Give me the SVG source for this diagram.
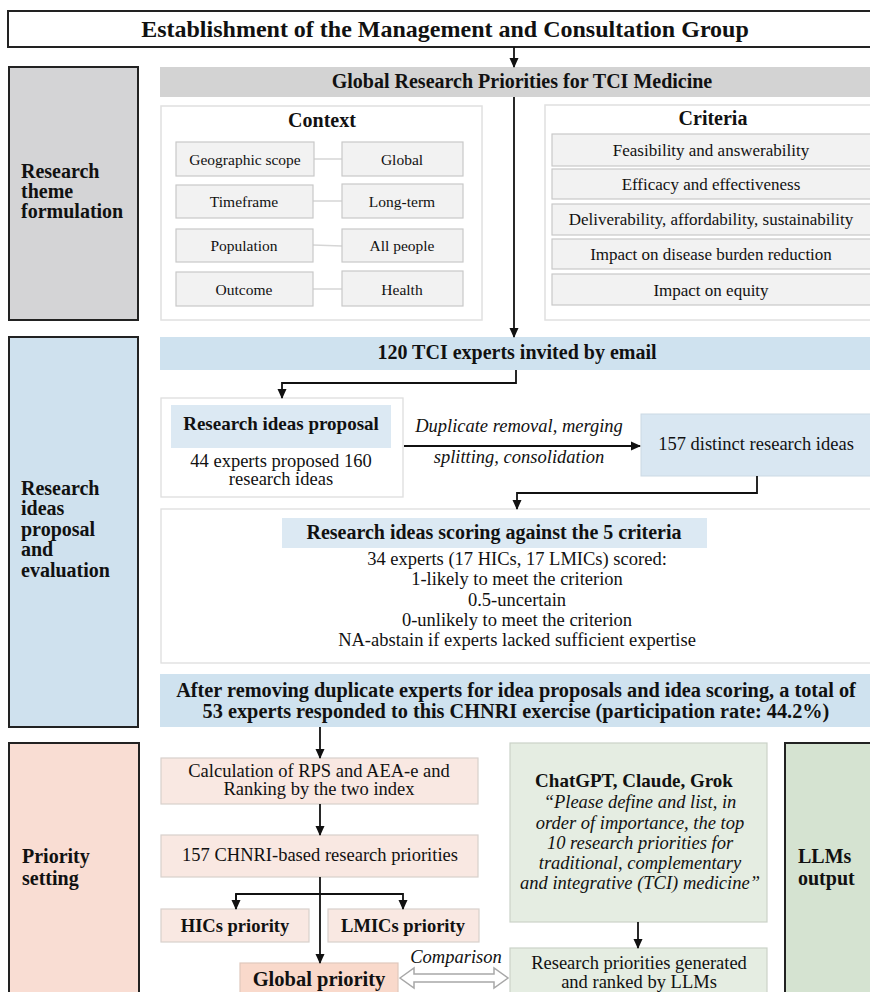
<svg xmlns="http://www.w3.org/2000/svg" width="870" height="992" viewBox="0 0 870 992">
<defs>
<marker id="ah" markerWidth="10" markerHeight="10" refX="9" refY="5" orient="auto" markerUnits="userSpaceOnUse">
<path d="M0,0.5 L10,5 L0,9.5 Z" fill="#111"/>
</marker>
<style>
text{font-family:"Liberation Serif","Times New Roman",serif;fill:#111}
.b{font-weight:bold}
.i{font-style:italic}
.c{text-anchor:middle}
.lab{stroke:#222;stroke-width:2}
.item{fill:#f2f2f2;stroke:#c9c9c9;stroke-width:1.2}
.panel{fill:#fff;stroke:#e0e0e0;stroke-width:1.5}
.blue{fill:#cfe2ef}
.peach{fill:#f9e8e2;stroke:#d8d0cc;stroke-width:1.2}
.green{fill:#e5ede2;stroke:#cbd2c8;stroke-width:1.2}
.conn{fill:none;stroke:#111;stroke-width:1.8}
.thin{stroke:#d6d6d6;stroke-width:1.5}
</style>
</defs>
<rect width="870" height="992" fill="#fff"/>

<g id="top">
<rect x="8" y="11" width="870" height="36" fill="#fff" stroke="#222" stroke-width="2"/>
<text class="b c" x="445" y="37" font-size="24">Establishment of the Management and Consultation Group</text>
</g>

<g id="label-theme">
<rect class="lab" x="9" y="67" width="129" height="253" fill="#d4d4d6"/>
<text class="b" x="21" y="178" font-size="20">Research</text>
<text class="b" x="21" y="198" font-size="20">theme</text>
<text class="b" x="21" y="218" font-size="20">formulation</text>
</g>

<g id="global-bar">
<rect x="160" y="67" width="715" height="30" fill="#d3d3d3"/>
<text class="b c" x="522" y="88" font-size="20">Global Research Priorities for TCI Medicine</text>
</g>

<g id="context">
<rect class="panel" x="161" y="106" width="321" height="214"/>
<text class="b c" x="322" y="127" font-size="20">Context</text>
<line class="thin" x1="314" y1="159" x2="342" y2="159"/>
<line class="thin" x1="313" y1="201" x2="342" y2="201"/>
<line class="thin" x1="313" y1="245" x2="342" y2="246"/>
<line class="thin" x1="313" y1="289" x2="342" y2="289"/>
<rect class="item" x="176" y="142" width="138" height="34"/>
<text class="c" x="245" y="165" font-size="15.5">Geographic scope</text>
<rect class="item" x="342" y="142" width="121" height="34"/>
<text class="c" x="402" y="165" font-size="15.5">Global</text>
<rect class="item" x="176" y="185" width="137" height="33"/>
<text class="c" x="244" y="207" font-size="15.5">Timeframe</text>
<rect class="item" x="342" y="184" width="121" height="34"/>
<text class="c" x="402" y="207" font-size="15.5">Long-term</text>
<rect class="item" x="176" y="229" width="137" height="33"/>
<text class="c" x="244" y="251" font-size="15.5">Population</text>
<rect class="item" x="342" y="229" width="121" height="33"/>
<text class="c" x="402" y="251" font-size="15.5">All people</text>
<rect class="item" x="176" y="272" width="137" height="34"/>
<text class="c" x="244" y="295" font-size="15.5">Outcome</text>
<rect class="item" x="342" y="271" width="121" height="35"/>
<text class="c" x="402" y="295" font-size="15.5">Health</text>
</g>

<g id="criteria">
<rect class="panel" x="545" y="105" width="330" height="215"/>
<text class="b c" x="713" y="125" font-size="20">Criteria</text>
<rect class="item" x="552" y="134" width="323" height="32"/>
<text class="c" x="711" y="156" font-size="17">Feasibility and answerability</text>
<rect class="item" x="552" y="169" width="323" height="30"/>
<text class="c" x="711" y="190" font-size="17">Efficacy and effectiveness</text>
<rect class="item" x="552" y="204" width="323" height="31"/>
<text class="c" x="711" y="225" font-size="17">Deliverability, affordability, sustainability</text>
<rect class="item" x="552" y="239" width="323" height="30"/>
<text class="c" x="711" y="260" font-size="17">Impact on disease burden reduction</text>
<rect class="item" x="552" y="274" width="323" height="31"/>
<text class="c" x="711" y="296" font-size="17">Impact on equity</text>
</g>

<g id="label-ideas">
<rect class="lab" x="9" y="337" width="129" height="390" fill="#cfe1ee"/>
<text class="b" x="21" y="495" font-size="20">Research</text>
<text class="b" x="21" y="515" font-size="20">ideas</text>
<text class="b" x="21" y="536" font-size="20">proposal</text>
<text class="b" x="21" y="556" font-size="20">and</text>
<text class="b" x="21" y="577" font-size="20">evaluation</text>
</g>

<g id="invited">
<rect class="blue" x="160" y="337" width="715" height="33"/>
<text class="b c" x="517" y="359" font-size="20">120 TCI experts invited by email</text>
</g>

<g id="proposal">
<rect x="161" y="398" width="242" height="99" fill="#fff" stroke="#dedede" stroke-width="1.3"/>
<rect class="blue" x="171" y="405" width="220" height="43" fill="#dde9f3" style="fill:#dce9f3"/>
<text class="b c" x="281" y="430" font-size="19">Research ideas proposal</text>
<text class="c" x="281" y="467" font-size="18.5">44 experts proposed 160</text>
<text class="c" x="281" y="485" font-size="18.5">research ideas</text>
</g>

<g id="distinct">
<rect class="blue" x="641" y="414" width="234" height="62" style="fill:#d9e7f2;stroke:#cbd9e4;stroke-width:1"/>
<text class="c" x="756" y="450" font-size="18.5">157 distinct research ideas</text>
</g>

<g id="scoring">
<rect x="161" y="509" width="714" height="154" fill="#fff" stroke="#dedede" stroke-width="1.3"/>
<rect x="282" y="518" width="425" height="30" fill="#dce9f3"/>
<text class="b c" x="494" y="539" font-size="20">Research ideas scoring against the 5 criteria</text>
<text class="c" x="517" y="565" font-size="18.5">34 experts (17 HICs, 17 LMICs) scored:</text>
<text class="c" x="517" y="585" font-size="18.5">1-likely to meet the criterion</text>
<text class="c" x="517" y="606" font-size="18.5">0.5-uncertain</text>
<text class="c" x="517" y="626" font-size="18.5">0-unlikely to meet the criterion</text>
<text class="c" x="517" y="646" font-size="18.5">NA-abstain if experts lacked sufficient expertise</text>
</g>

<g id="responded">
<rect class="blue" x="160" y="674" width="715" height="53"/>
<text class="b c" x="516" y="697" font-size="20.3">After removing duplicate experts for idea proposals and idea scoring, a total of</text>
<text class="b c" x="516" y="718" font-size="20.3">53 experts responded to this CHNRI exercise (participation rate: 44.2%)</text>
</g>

<g id="label-priority">
<rect class="lab" x="9" y="743" width="130" height="260" fill="#f9ddd3"/>
<text class="b" x="22" y="863" font-size="20">Priority</text>
<text class="b" x="22" y="885" font-size="20">setting</text>
</g>

<g id="calc">
<rect class="peach" x="161" y="758" width="317" height="46"/>
<text class="c" x="319" y="777" font-size="18.5">Calculation of RPS and AEA-e and</text>
<text class="c" x="319" y="795" font-size="18.5">Ranking by the two index</text>
</g>

<g id="chnri">
<rect class="peach" x="161" y="835" width="317" height="42"/>
<text class="c" x="320" y="861" font-size="18.5">157 CHNRI-based research priorities</text>
</g>

<g id="hics">
<rect class="peach" x="161" y="909" width="148" height="33"/>
<text class="b c" x="235" y="932" font-size="18.5">HICs priority</text>
</g>

<g id="lmics">
<rect class="peach" x="328" y="909" width="151" height="33"/>
<text class="b c" x="403" y="932" font-size="18.5">LMICs priority</text>
</g>

<g id="global-priority">
<rect x="240" y="963" width="158" height="40" fill="#f9d9cb" stroke="#e0c8bd" stroke-width="1.2"/>
<text class="b c" x="319" y="986" font-size="20.5">Global priority</text>
</g>

<g id="llm-prompt">
<rect class="green" x="510" y="743" width="257" height="179"/>
<text class="b c" x="634" y="787" font-size="19">ChatGPT, Claude, Grok</text>
<text class="i c" x="640" y="808" font-size="18.5">“Please define and list, in</text>
<text class="i c" x="640" y="829" font-size="18.5">order of importance, the top</text>
<text class="i c" x="640" y="849" font-size="18.5">10 research priorities for</text>
<text class="i c" x="640" y="869" font-size="18.5">traditional, complementary</text>
<text class="i c" x="640" y="889" font-size="18.5">and integrative (TCI) medicine”</text>
</g>

<g id="llm-result">
<rect class="green" x="510" y="948" width="257" height="60"/>
<text class="c" x="639" y="969" font-size="18.5">Research priorities generated</text>
<text class="c" x="639" y="988" font-size="18.5">and ranked by LLMs</text>
</g>

<g id="label-llm">
<rect class="lab" x="785" y="743" width="100" height="260" fill="#d5e3d1"/>
<text class="b" x="798" y="863" font-size="20">LLMs</text>
<text class="b" x="798" y="885" font-size="20">output</text>
</g>

<g id="connectors">
<line class="conn" x1="514" y1="47" x2="514" y2="67" marker-end="url(#ah)"/>
<line class="conn" x1="514" y1="97" x2="514" y2="337" marker-end="url(#ah)"/>
<polyline class="conn" points="516,370 516,383 282,383 282,398" marker-end="url(#ah)"/>
<line class="conn" x1="404" y1="446" x2="640" y2="446" marker-end="url(#ah)"/>
<text class="i c" x="519" y="432" font-size="18.5">Duplicate removal, merging</text>
<text class="i c" x="519" y="463" font-size="18.5">splitting, consolidation</text>
<polyline class="conn" points="757,476 757,493 517,493 517,509" marker-end="url(#ah)"/>
<line class="conn" x1="320" y1="727" x2="320" y2="758" marker-end="url(#ah)"/>
<line class="conn" x1="320" y1="804" x2="320" y2="835" marker-end="url(#ah)"/>
<line class="conn" x1="320" y1="877" x2="320" y2="963" marker-end="url(#ah)"/>
<polyline class="conn" points="236,909 236,894 403,894 403,909" marker-end="url(#ah)"/>
<line class="conn" x1="236" y1="894" x2="236" y2="909" marker-end="url(#ah)"/>
<line class="conn" x1="638" y1="922" x2="638" y2="948" marker-end="url(#ah)"/>
<polygon points="400,978 414,968 414,974 494,974 494,968 508,978 494,988 494,982 414,982 414,988" fill="#fff" stroke="#a8a8a8" stroke-width="1.5"/>
<text class="i c" x="456" y="963" font-size="18.5">Comparison</text>
</g>
</svg>
